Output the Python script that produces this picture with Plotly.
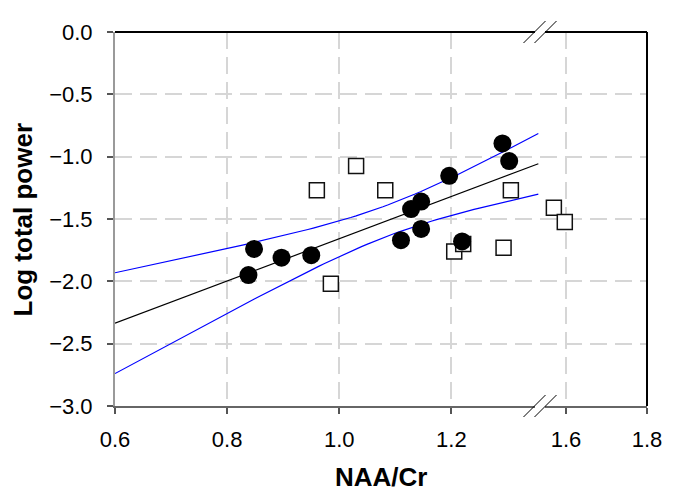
import numpy as np
import plotly.graph_objects as go

# ---- data ----
circle_x = [0.838, 0.848, 0.897, 0.950, 1.110, 1.128, 1.146, 1.146, 1.196, 1.219, 1.291, 1.303]
circle_y = [-1.95, -1.74, -1.81, -1.79, -1.67, -1.42, -1.36, -1.58, -1.154, -1.68, -0.894, -1.035]
square_x = [0.960, 0.985, 1.030, 1.082, 1.205, 1.221, 1.293, 1.306, 1.570, 1.597]
square_y = [-1.27, -2.02, -1.074, -1.27, -1.76, -1.70, -1.73, -1.27, -1.41, -1.525]

x_left_ticks = [0.6, 0.8, 1.0, 1.2]
x_right_ticks = [1.6, 1.8]
y_ticks = [0.0, -0.5, -1.0, -1.5, -2.0, -2.5, -3.0]

# broken axis: left segment and right segment
LEFT_RANGE = [0.6, 1.358]
RIGHT_RANGE = [1.5358, 1.8]
BREAK = 0.7989  # paper fraction of the break
FIT_END = 1.355

# ---- regression on filled circles with 95% confidence band ----
cx = np.array(circle_x)
cy = np.array(circle_y)
n = len(cx)
slope, intercept = np.polyfit(cx, cy, 1)
resid = cy - (intercept + slope * cx)
s = np.sqrt(np.sum(resid ** 2) / (n - 2))
sxx = np.sum((cx - cx.mean()) ** 2)
t_crit = 2.228  # t(0.975, df=10)
xs = np.linspace(LEFT_RANGE[0], FIT_END, 80)
fit = intercept + slope * xs
half = t_crit * s * np.sqrt(1.0 / n + (xs - cx.mean()) ** 2 / sxx)

fig = go.Figure()

fig.add_trace(go.Scatter(x=xs, y=fit + half, mode="lines",
                         line=dict(color="#0000ff", width=1.2), xaxis="x", yaxis="y"))
fig.add_trace(go.Scatter(x=xs, y=fit - half, mode="lines",
                         line=dict(color="#0000ff", width=1.2), xaxis="x", yaxis="y"))
fig.add_trace(go.Scatter(x=xs, y=fit, mode="lines",
                         line=dict(color="#000000", width=1.2), xaxis="x", yaxis="y"))

sq_l = [(a, b) for a, b in zip(square_x, square_y) if a <= LEFT_RANGE[1]]
sq_r = [(a, b) for a, b in zip(square_x, square_y) if a > LEFT_RANGE[1]]
sq_marker = dict(symbol="square", size=15, color="white", line=dict(color="#111111", width=1.5))
fig.add_trace(go.Scatter(x=[p[0] for p in sq_l], y=[p[1] for p in sq_l], mode="markers",
                         marker=sq_marker, xaxis="x", yaxis="y"))
fig.add_trace(go.Scatter(x=[p[0] for p in sq_r], y=[p[1] for p in sq_r], mode="markers",
                         marker=sq_marker, xaxis="x2", yaxis="y"))
fig.add_trace(go.Scatter(x=circle_x, y=circle_y, mode="markers",
                         marker=dict(symbol="circle", size=18, color="black", line=dict(width=0)),
                         xaxis="x", yaxis="y"))

font_family = "Liberation Sans, Arial, sans-serif"
grid = dict(showgrid=True, gridcolor="#d6d6d6", gridwidth=2, griddash="17px,8px")
common_x = dict(ticks="outside", ticklen=6, tickcolor="#555555", tickwidth=1.5,
                showline=True, linecolor="#666666", linewidth=2, zeroline=False,
                tickformat=".1f", ticklabelstandoff=7,
                tickfont=dict(family=font_family, size=22, color="black"), **grid)

fig.update_layout(
    width=680, height=500,
    margin=dict(l=107, r=41, t=21, b=102),
    paper_bgcolor="white", plot_bgcolor="white",
    showlegend=False,
    xaxis=dict(domain=[0, BREAK], range=LEFT_RANGE, tickvals=x_left_ticks,
               anchor="y", **common_x),
    xaxis2=dict(domain=[BREAK, 1], range=RIGHT_RANGE, tickvals=x_right_ticks,
                anchor="y", **common_x),
    yaxis=dict(range=[-3, 0], tickvals=y_ticks, tickformat=".1f",
               ticks="outside", ticklen=6, tickcolor="#555555", tickwidth=1.5,
               showline=True, linecolor="#9a9a9a", linewidth=2, zeroline=False,
               ticklabelstandoff=10,
               tickfont=dict(family=font_family, size=22, color="black"),
               anchor="x", **grid),
)

shapes = [
    # top and right frame lines
    dict(type="line", xref="paper", yref="paper", x0=0, x1=1, y0=1, y1=1,
         line=dict(color="black", width=2)),
    dict(type="line", xref="paper", yref="paper", x0=1, x1=1, y0=0, y1=1,
         line=dict(color="black", width=2)),
]
for yy in (0, 1):
    shapes.append(dict(type="rect", xref="paper", yref="paper",
                       xsizemode="pixel", ysizemode="pixel", xanchor=BREAK, yanchor=yy,
                       x0=-5, x1=5, y0=-3, y1=3, fillcolor="white", line=dict(width=0)))
    for off in (-5.5, 5.5):
        shapes.append(dict(type="line", xref="paper", yref="paper",
                           xsizemode="pixel", ysizemode="pixel", xanchor=BREAK, yanchor=yy,
                           x0=off - 11, x1=off + 11, y0=-11, y1=11,
                           line=dict(color="black", width=1)))
fig.update_layout(shapes=shapes)

fig.add_annotation(text="<b>NAA/Cr</b>", xref="paper", yref="paper", x=0.5, y=-0.19,
                   xanchor="center", yanchor="middle", showarrow=False,
                   font=dict(family=font_family, size=26, color="black"))
fig.add_annotation(text="<b>Log total power</b>", xref="paper", yref="paper", x=-0.172, y=0.5,
                   xanchor="center", yanchor="middle", textangle=-90, showarrow=False,
                   font=dict(family=font_family, size=26, color="black"))

fig.write_html("out.html")
